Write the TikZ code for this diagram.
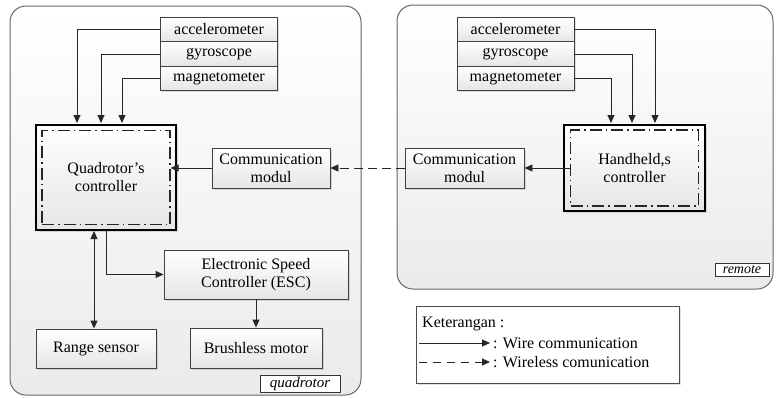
\documentclass[tikz,border=0pt]{standalone}
\usepackage{fontspec}
\setmainfont{Liberation Serif}
\usetikzlibrary{arrows.meta,shadows,calc}

\begin{document}
\begin{tikzpicture}[x=1pt,y=-1pt,
  font=\fontsize{16}{18}\selectfont,
  tip/.style={-{Triangle[length=8pt,width=7pt]}},
  wire/.style={draw=black!85, line width=0.9pt, tip},
  radio/.style={wire, dash pattern=on 9pt off 5pt},
  shade/.style={top color=white, bottom color=black!10},
  softshadow/.style={drop shadow={opacity=0.25, shadow xshift=1.5pt, shadow yshift=-1.5pt}},
  box/.style={draw=black!75, line width=0.9pt, shade, softshadow,
    inner sep=1pt, align=center},
  sensor/.style={box, minimum width=117pt, minimum height=24.4pt},
  ctrl/.style={draw=black, line width=2pt, shade, softshadow,
    minimum width=140pt, inner sep=0pt},
  ctrlin/.style={draw=black!85, line width=1.2pt,
    dash pattern=on 12pt off 4pt on 1.5pt off 4pt, inner sep=0pt, align=center},
  region/.style={draw=black!60, line width=1pt, rounded corners=16pt,
    top color=white, bottom color=black!8},
  tag/.style={draw=black!80, line width=0.8pt, fill=white, inner sep=0pt,
    font=\fontsize{15}{17}\selectfont\itshape}
]
\useasboundingbox (0,0) rectangle (776,397);

% the two enclosing regions
\path[region] (10,6) rectangle (361,395);
\path[region] (397,5) rectangle (773,289);

% ---------------- quadrotor side ----------------
\node[sensor] (qacc) at (219,29.5) {accelerometer};
\node[sensor] (qgyr) at (219,54) {gyroscope};
\node[sensor] (qmag) at (219,78.4) {magnetometer};

\node[ctrl, minimum height=105pt] (qout) at (106,177.5) {};
\node[ctrlin, minimum width=128pt, minimum height=94pt] (qin) at (106,177.5)
  {Quadrotor’s\\controller};

\node[box, minimum width=118pt, minimum height=40pt] (commL) at (271,168)
  {Communication\\modul};

\node[box, minimum width=184pt, minimum height=49pt] (esc) at (256,274.5)
  {Electronic Speed\\Controller (ESC)};
\node[box, minimum width=120pt, minimum height=39pt] (range) at (96,348.5)
  {Range sensor};
\node[box, minimum width=132pt, minimum height=40pt] (motor) at (256,348)
  {Brushless motor};

\node[tag, minimum width=80pt, minimum height=17pt] (qtag) at (300,383.5) {quadrotor};

\draw[wire] (qacc.west) -| ($(qout.north west)+(42,-1)$);
\draw[wire] (qgyr.west) -| ($(qout.north west)+(66,-1)$);
\draw[wire] (qmag.west) -| ($(qout.north west)+(87,-1)$);
\draw[wire] (commL.west) -- (commL.west -| qin.east);
\draw[wire] (qout.south) |- (esc.west);
\draw[wire, {Triangle[length=8pt,width=7pt]}-{Triangle[length=8pt,width=7pt]}]
  ($(qout.south)+(-12,0)$) -- ($(range.north)+(-2,0)$);
\draw[wire] (esc.south) -- (motor.north);

% ---------------- remote side ----------------
\node[sensor] (racc) at (515.5,29.5) {accelerometer};
\node[sensor] (rgyr) at (515.5,54) {gyroscope};
\node[sensor] (rmag) at (515.5,78.4) {magnetometer};

\node[ctrl, minimum width=141pt, minimum height=86pt] (hout) at (634.5,168) {};
\node[ctrlin, minimum width=128pt, minimum height=76pt] (hin) at (634.5,168)
  {Handheld,s\\controller};

\node[box, minimum width=119pt, minimum height=40pt] (commR) at (464.5,168)
  {Communication\\modul};

\node[tag, minimum width=54pt, minimum height=13pt,
  font=\fontsize{14}{16}\selectfont\itshape] (rtag) at (742,270) {remote};

\draw[wire] (racc.east) -| ($(hout.north west)+(92,-1)$);
\draw[wire] (rgyr.east) -| ($(hout.north west)+(69,-1)$);
\draw[wire] (rmag.east) -| ($(hout.north west)+(48,-1)$);
\draw[wire] (hin.west) -- (commR.east);

% wireless link between the two communication modules
\draw[radio] (commR.west) -- (commL.east);

% ---------------- legend ----------------
\node[draw=black!70, line width=0.8pt, fill=white, softshadow,
  minimum width=263pt, minimum height=77pt, inner sep=0pt] (legend) at (547.5,344.5) {};
\node[anchor=west, inner sep=0pt] (ket) at (422,324) {Keterangan :};
\coordinate (wa) at (419,343);
\coordinate (wb) at (490,343);
\coordinate (da) at (419,362);
\coordinate (db) at (490,362);
\draw[wire] (wa) -- (wb);
\draw[wire, dash pattern=on 8pt off 6pt] (da) -- (db);
\node[anchor=west, inner sep=0pt] (lw) at (493,343) {: Wire communication};
\node[anchor=west, inner sep=0pt] (ld) at (493,362) {: Wireless comunication};
\end{tikzpicture}
\end{document}
